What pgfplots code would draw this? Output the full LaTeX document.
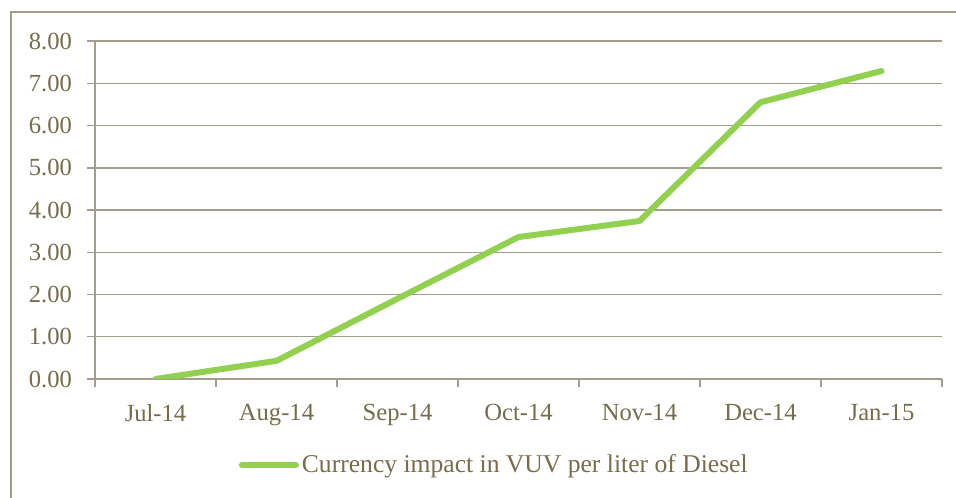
\documentclass[border=0pt]{standalone}
\usepackage{fontspec}
\setmainfont{Liberation Serif}
\usepackage{pgfplots}
\pgfplotsset{compat=1.18}
\definecolor{txt}{HTML}{776C4B}
\definecolor{gridc}{HTML}{A39E8C}
\definecolor{lgreen}{HTML}{92D050}

\begin{document}
\begin{tikzpicture}
\path[use as bounding box] (0,0) rectangle (478pt,248.5pt);
\begin{scope}
\clip (0,0) rectangle (478pt,248.5pt);
\draw[gridc, line width=0.9pt] (5.5pt,-10pt) rectangle (490pt,242.5pt);
\end{scope}
\begin{axis}[
  at={(47.5pt,59pt)}, anchor=south west,
  scale only axis, width=423.5pt, height=169pt,
  xmin=-0.5, xmax=6.5, ymin=0, ymax=8,
  xtick={0,...,6},
  xticklabels={Jul-14,Aug-14,Sep-14,Oct-14,Nov-14,Dec-14,Jan-15},
  minor xtick={-0.5,0.5,...,6.5},
  ytick={0,1,...,8},
  tick align=outside, major tick length=4pt, minor tick length=4pt,
  major x tick style={draw=none},
  tick style={gridc, line width=0.75pt},
  axis x line*=bottom, axis y line*=left,
  axis line style={gridc, line width=0.75pt, -},
  ymajorgrids, grid style={gridc, line width=0.75pt},
  yticklabel style={text=txt, xshift=-4pt},
  xticklabel style={text=txt, yshift=-5pt},
  ticklabel style={font=\fontsize{12.3}{14}\selectfont},
  /pgf/number format/.cd, fixed, fixed zerofill, precision=2, assume math mode=true,
  /pgfplots/.cd,
  legend style={at={(0.472,-0.254)}, anchor=center, draw=none, fill=none,
    font=\fontsize{12.8}{14}\selectfont, text=txt,
    /tikz/every even column/.append style={column sep=0pt},
    /tikz/every node/.append style={inner xsep=1.5pt}},
  legend image code/.code={\draw[#1] (0pt,0pt) -- (27pt,0pt);},
]
\addplot[lgreen, line width=3pt, line cap=round, line join=round] coordinates {
  (0,0) (1,0.43) (2,1.90) (3,3.36) (4,3.74) (5,6.55) (6,7.29)
};
\addlegendentry{Currency impact in VUV per liter of Diesel}
\end{axis}
\end{tikzpicture}
\end{document}
